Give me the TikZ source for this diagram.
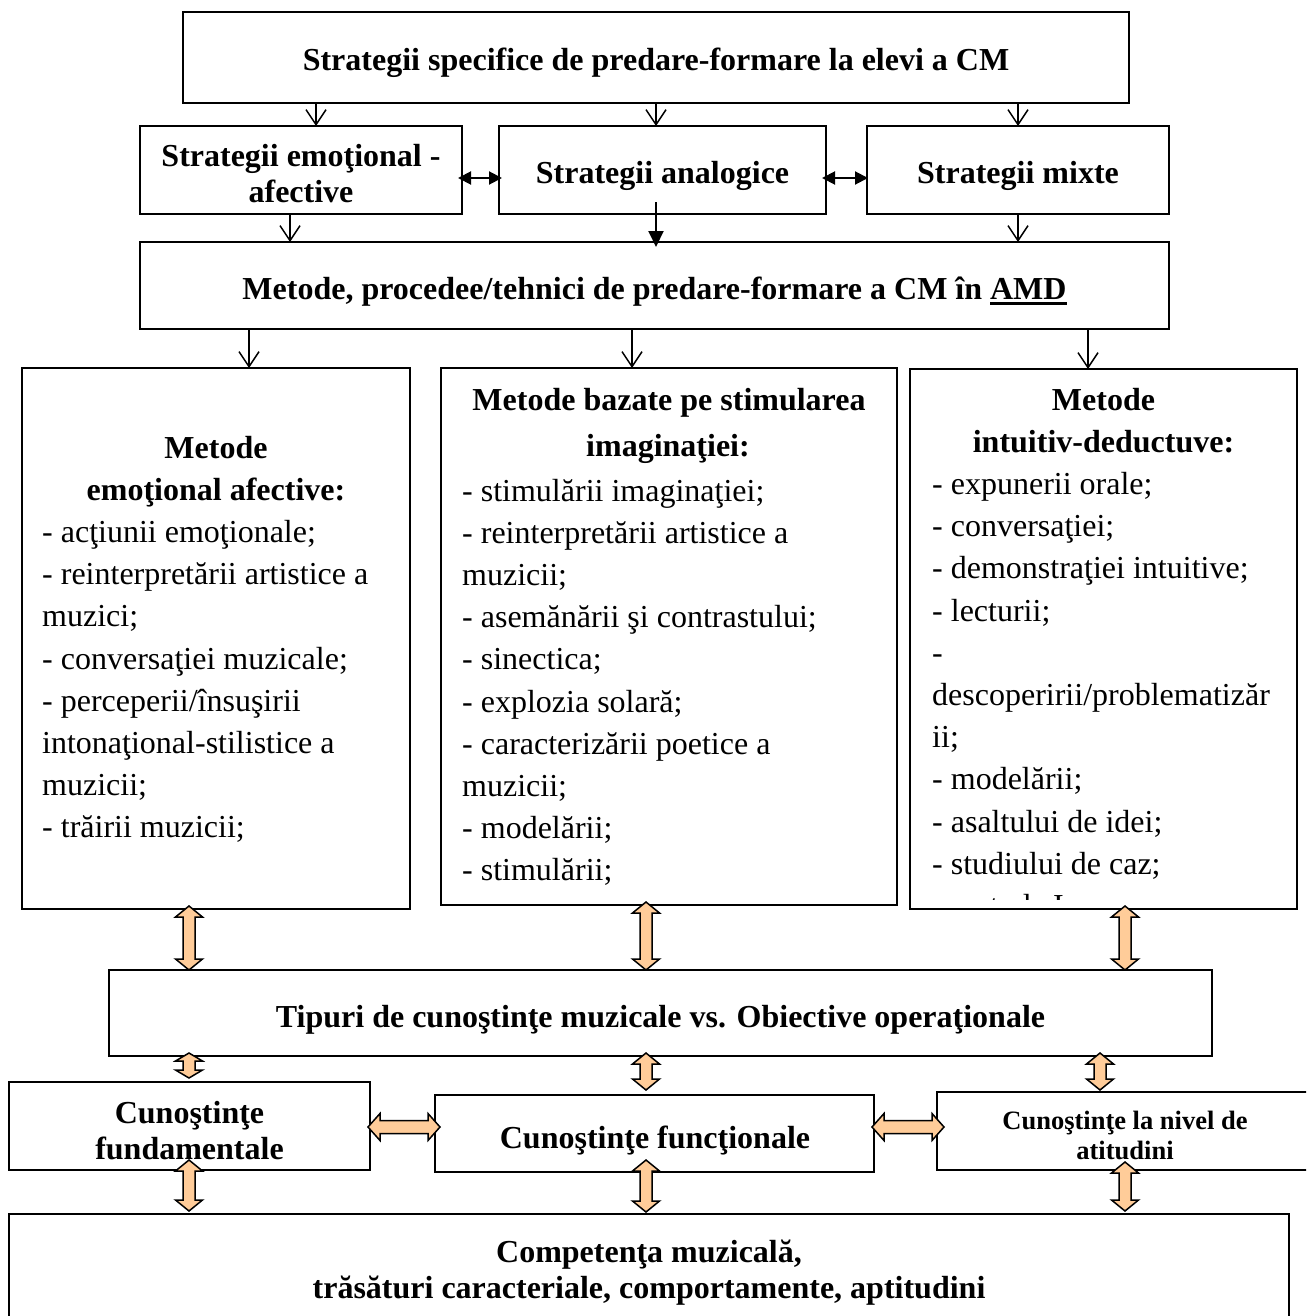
\documentclass[tikz,border=0pt]{standalone}
\usepackage{fontspec}
\setmainfont{Liberation Serif}
\usetikzlibrary{calc,arrows.meta}

\definecolor{peach}{HTML}{FFCC99}

% underline with a heavier rule
\newcommand{\ulamd}[1]{\setbox0\hbox{#1}\rlap{\rule[-6pt]{\wd0}{3pt}}\box0}

% wide outlined two-headed arrows (vertical and horizontal); optional head length
\newcommand{\fatV}[3][11]{%
  \filldraw[fat] (#2) -- ($(#2)+(13.5,#1)$) -- ($(#2)+(6,#1)$) -- ($(#3)+(6,-#1)$)
    -- ($(#3)+(13.5,-#1)$) -- (#3) -- ($(#3)+(-13.5,-#1)$) -- ($(#3)+(-6,-#1)$)
    -- ($(#2)+(-6,#1)$) -- ($(#2)+(-13.5,#1)$) -- cycle;}
\newcommand{\fatH}[2]{%
  \filldraw[fat] (#1) -- ($(#1)+(12,-13.5)$) -- ($(#1)+(12,-6.5)$) -- ($(#2)+(-12,-6.5)$)
    -- ($(#2)+(-12,-13.5)$) -- (#2) -- ($(#2)+(-12,13.5)$) -- ($(#2)+(-12,6.5)$)
    -- ($(#1)+(12,6.5)$) -- ($(#1)+(12,13.5)$) -- cycle;}

\tikzset{
  box/.style={draw, line width=1.9pt, rectangle, inner sep=0pt, outer sep=0pt},
  lbl/.style={anchor=base, inner sep=0pt, font=\fontsize{32}{38}\selectfont\bfseries},
  lblsmall/.style={anchor=base, inner sep=0pt, font=\fontsize{26.5}{30}\selectfont\bfseries},
  item/.style={anchor=base west, inner sep=0pt, font=\fontsize{32}{38}\selectfont},
  vee/.style={line width=1.5pt, -{Straight Barb[length=15pt, width=20pt, line width=1.5pt]}},
  tri/.style={line width=2pt, -{Triangle[length=16pt, width=15pt]}},
  tribi/.style={line width=2pt, {Triangle[length=13pt, width=13pt]}-{Triangle[length=13pt, width=13pt]}},
  fat/.style={draw=black, fill=peach, line width=1.5pt, line join=miter},
}

\begin{document}
\begin{tikzpicture}[x=1pt, y=-1pt]
\useasboundingbox (0,0) rectangle (1306,1316);
\clip (0,0) rectangle (1306,1316);

% ---------- boxes ----------
\node[box, minimum width=946,  minimum height=91]  (top) at (656,57.5)   {};
\node[box, minimum width=322,  minimum height=88]  (se)  at (301,170)    {};
\node[box, minimum width=327,  minimum height=88]  (sa)  at (662.5,170)  {};
\node[box, minimum width=302,  minimum height=88]  (sm)  at (1018,170)   {};
\node[box, minimum width=1029, minimum height=87]  (mt)  at (654.5,285.5){};
\node[box, minimum width=388,  minimum height=541] (ca)  at (216,638.5)  {};
\node[box, minimum width=456,  minimum height=537] (cb)  at (669,636.5)  {};
\node[box, minimum width=387,  minimum height=540] (cc)  at (1103.5,639) {};
\node[box, minimum width=1103, minimum height=86]  (tp)  at (660.5,1013) {};
\node[box, minimum width=361,  minimum height=88]  (kf)  at (189.5,1126) {};
\node[box, minimum width=439,  minimum height=77]  (kn)  at (654.5,1133.5){};
\node[box, minimum width=393,  minimum height=78]  (ka)  at (1133.5,1131){};
\node[box, minimum width=1280, minimum height=126] (cm)  at (649,1277)   {};

% ---------- box titles ----------
\node[lbl] (topT) at (656,71) {Strategii specifice de predare-formare la elevi a CM};
\node[lbl] (seT1) at (301,167) {Strategii emoţional -};
\node[lbl] (seT2) at (301,202) {afective};
\node[lbl] (saT)  at (662.5,183) {Strategii analogice};
\node[lbl] (smT)  at (1018,183) {Strategii mixte};
\node[lbl] (mtT)  at (654.5,299) {Metode, procedee/tehnici de predare-formare a CM în \ulamd{AMD}};

% left column
\node[lbl] (caT1) at (216,458) {Metode};
\node[lbl] (caT2) at (216,500.2) {emoţional afective:};
\foreach \t [count=\i from 0] in {%
  {- acţiunii emoţionale;},
  {- reinterpretării artistice a},
  {muzici;},
  {- conversaţiei muzicale;},
  {- perceperii/însuşirii},
  {intonaţional-stilistice a},
  {muzicii;},
  {- trăirii muzicii;}}
  \node[item] (ca\i) at (42,542.4+42.2*\i) {\t};

% middle column
\node[lbl] (cbT1) at (669,410) {Metode bazate pe stimularea};
\node[lbl] (cbT2) at (668,456) {imaginaţiei:};
\foreach \t [count=\i from 0] in {%
  {- stimulării imaginaţiei;},
  {- reinterpretării artistice a},
  {muzicii;},
  {- asemănării şi contrastului;},
  {- sinectica;},
  {- explozia solară;},
  {- caracterizării poetice a},
  {muzicii;},
  {- modelării;},
  {- stimulării;}}
  \node[item] (cb\i) at (462,501+42.2*\i) {\t};

% right column (its last line runs past the frame)
\node[lbl] (ccT1) at (1103.5,410) {Metode};
\node[lbl] (ccT2) at (1103.5,452.2) {intuitiv-deductuve:};
\begin{scope}
  \clip (910,369) rectangle (1297,899.5);
  \foreach \t [count=\i from 0] in {%
    {- expunerii orale;},
    {- conversaţiei;},
    {- demonstraţiei intuitive;},
    {- lecturii;},
    {-},
    {descoperirii/problematizăr},
    {ii;},
    {- modelării;},
    {- asaltului de idei;},
    {- studiului de caz;},
    {- metoda I}}
    \node[item] (cc\i) at (932,494.4+42.2*\i) {\t};
\end{scope}

\node[lbl] (tpT) at (660.5,1027) {Tipuri de cunoştinţe muzicale vs. Obiective operaţionale};
\node[lbl] (kfT1) at (189.5,1123) {Cunoştinţe};
\node[lbl] (kfT2) at (189.5,1159) {fundamentale};
\node[lbl] (knT) at (655,1148) {Cunoştinţe funcţionale};
\node[lblsmall] (kaT1) at (1125,1129) {Cunoştinţe la nivel de};
\node[lblsmall] (kaT2) at (1125,1159) {atitudini};
\node[lbl] (cmT1) at (649,1262) {Competenţa muzicală,};
\node[lbl] (cmT2) at (649,1298) {trăsături caracteriale, comportamente, aptitudini};

% ---------- thin connectors ----------
\coordinate (x249) at (249,0);  \coordinate (x290) at (290,0);
\coordinate (x316) at (316,0);  \coordinate (x632) at (632,0);
\coordinate (x656) at (656,0);  \coordinate (x1018) at (1018,0);
\coordinate (x1088) at (1088,0);\coordinate (yS) at (0,178);

\draw[vee] (top.south -| x316)  -- (se.north -| x316);
\draw[vee] (top.south -| x656)  -- (sa.north -| x656);
\draw[vee] (top.south -| x1018) -- (sm.north -| x1018);

\draw[tribi] ($(se.east |- yS)+(-4,0)$) -- ($(sa.west |- yS)+(3,0)$);
\draw[tribi] ($(sa.east |- yS)+(-4,0)$) -- ($(sm.west |- yS)+(1,0)$);

\draw[vee] (se.south -| x290)  -- (mt.north -| x290);
\draw[tri] ($(sa.south -| x656)+(0,-12)$) -- ($(mt.north -| x656)+(0,5)$);
\draw[vee] (sm.south -| x1018) -- (mt.north -| x1018);

\draw[vee] (mt.south -| x249)  -- (ca.north -| x249);
\draw[vee] (mt.south -| x632)  -- (cb.north -| x632);
\draw[vee] (mt.south -| x1088) -- (cc.north -| x1088);

% ---------- wide two-headed connectors ----------
\coordinate (x189) at (189,0);  \coordinate (x646) at (646,0);
\coordinate (x1100) at (1100,0);\coordinate (x1125) at (1125,0);
\coordinate (yK) at (0,1127);

\coordinate (f1a) at ($(ca.south -| x189)+(0,-3)$);   \coordinate (f1b) at (tp.north -| x189);
\coordinate (f2a) at ($(cb.south -| x646)+(0,-3)$);   \coordinate (f2b) at (tp.north -| x646);
\coordinate (f3a) at ($(cc.south -| x1125)+(0,-3)$);  \coordinate (f3b) at (tp.north -| x1125);
\coordinate (f4a) at ($(tp.south -| x189)+(0,-3)$);   \coordinate (f4b) at ($(kf.north -| x189)+(0,-4)$);
\coordinate (f5a) at ($(tp.south -| x646)+(0,-3)$);   \coordinate (f5b) at ($(kn.north -| x646)+(0,-5)$);
\coordinate (f6a) at ($(tp.south -| x1100)+(0,-3)$);  \coordinate (f6b) at ($(ka.north -| x1100)+(0,-2)$);
\coordinate (f7a) at ($(kf.east |- yK)+(-2,0)$);      \coordinate (f7b) at ($(kn.west |- yK)+(5,0)$);
\coordinate (f8a) at ($(kn.east |- yK)+(-2,0)$);      \coordinate (f8b) at ($(ka.west |- yK)+(7,0)$);
\coordinate (f9a) at ($(kf.south -| x189)+(0,-10)$);  \coordinate (f9b) at ($(cm.north -| x189)+(0,-3)$);
\coordinate (f10a) at ($(kn.south -| x646)+(0,-12)$); \coordinate (f10b) at ($(cm.north -| x646)+(0,-2)$);
\coordinate (f11a) at ($(ka.south -| x1125)+(0,-8)$); \coordinate (f11b) at ($(cm.north -| x1125)+(0,-3)$);

\fatV{f1a}{f1b}
\fatV{f2a}{f2b}
\fatV{f3a}{f3b}
\fatV[8]{f4a}{f4b}
\fatV{f5a}{f5b}
\fatV{f6a}{f6b}
\fatH{f7a}{f7b}
\fatH{f8a}{f8b}
\fatV{f9a}{f9b}
\fatV{f10a}{f10b}
\fatV{f11a}{f11b}
\end{tikzpicture}
\end{document}
